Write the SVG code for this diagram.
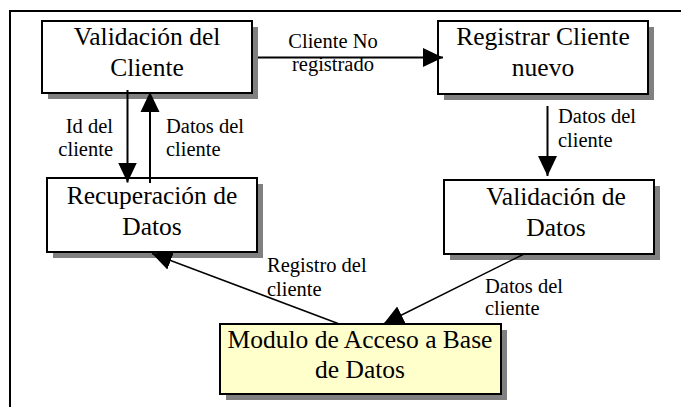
<svg xmlns="http://www.w3.org/2000/svg" width="681" height="407" viewBox="0 0 681 407">
<style>
.shadow{fill:#808080;stroke:none}
.box{fill:#ffffff;stroke:#000000;stroke-width:2}
.db{fill:#ffffcc;stroke:#000000;stroke-width:2}
.nt{font-family:'Liberation Serif','Times New Roman',Tinos,'DejaVu Serif',serif;font-size:25.5px;fill:#000000;text-anchor:middle}
.lb{font-family:'Liberation Serif','Times New Roman',Tinos,'DejaVu Serif',serif;font-size:20.5px;fill:#000000}
.ln{fill:none;stroke:#000000;stroke-width:2;marker-end:url(#ah)}
.dl{fill:none;stroke:#000000;stroke-width:1.5;marker-end:url(#ah)}
</style>
<defs>
<marker id="ah" viewBox="0 0 20 20" refX="20" refY="10" markerWidth="20" markerHeight="20" markerUnits="userSpaceOnUse" orient="auto">
<path d="M0,0.5 L20,10 L0,19.5 z" fill="#000000"/>
</marker>
</defs>
<rect x="0" y="0" width="681" height="407" fill="#ffffff"/>
<path d="M10,408 V11 H682" fill="none" stroke="#000000" stroke-width="2"/>
<g id="validacion-cliente">
<rect class="shadow" x="48" y="27" width="210" height="72"/>
<rect class="box" x="42" y="21" width="210" height="72"/>
<text class="nt" x="147" y="45">Validación del</text>
<text class="nt" x="147" y="76">Cliente</text>
</g>
<g id="registrar-cliente">
<rect class="shadow" x="444" y="27" width="210" height="73"/>
<rect class="box" x="438" y="21" width="210" height="73"/>
<text class="nt" x="543" y="45">Registrar Cliente</text>
<text class="nt" x="543" y="76">nuevo</text>
</g>
<g id="recuperacion-datos">
<rect class="shadow" x="53" y="184" width="210" height="74"/>
<rect class="box" x="47" y="178" width="210" height="74"/>
<text class="nt" x="152" y="204">Recuperación de</text>
<text class="nt" x="152" y="235">Datos</text>
</g>
<g id="validacion-datos">
<rect class="shadow" x="450" y="186" width="210" height="74"/>
<rect class="box" x="444" y="180" width="210" height="74"/>
<text class="nt" x="556" y="205">Validación de</text>
<text class="nt" x="556" y="236">Datos</text>
</g>
<g id="modulo-acceso">
<rect class="shadow" x="226" y="330" width="281" height="70"/>
<rect class="db" x="220" y="324" width="281" height="70"/>
<text class="nt" x="360" y="348">Modulo de Acceso a Base</text>
<text class="nt" x="360" y="378">de Datos</text>
</g>
<g id="connectors">
<line class="ln" x1="258" y1="57.5" x2="443" y2="57.5"/>
<line class="ln" x1="127.5" y1="90" x2="127.5" y2="182.5"/>
<line class="ln" x1="150" y1="183" x2="150" y2="92"/>
<line class="ln" x1="547.5" y1="106" x2="547.5" y2="176"/>
<line class="dl" x1="338" y1="323.5" x2="152" y2="253.5"/>
<line class="dl" x1="525" y1="253.5" x2="383.5" y2="324"/>
</g>
<g id="labels">
<text class="lb" x="333" y="48" text-anchor="middle">Cliente No</text>
<text class="lb" x="333" y="71" text-anchor="middle">registrado</text>
<text class="lb" x="113" y="133" text-anchor="end">Id del</text>
<text class="lb" x="113" y="156" text-anchor="end">cliente</text>
<text class="lb" x="166" y="133">Datos del</text>
<text class="lb" x="166" y="156">cliente</text>
<text class="lb" x="558" y="123">Datos del</text>
<text class="lb" x="558" y="146.5">cliente</text>
<text class="lb" x="267" y="272">Registro del</text>
<text class="lb" x="267" y="295.5">cliente</text>
<text class="lb" x="485" y="293">Datos del</text>
<text class="lb" x="485" y="315">cliente</text>
</g>
</svg>
